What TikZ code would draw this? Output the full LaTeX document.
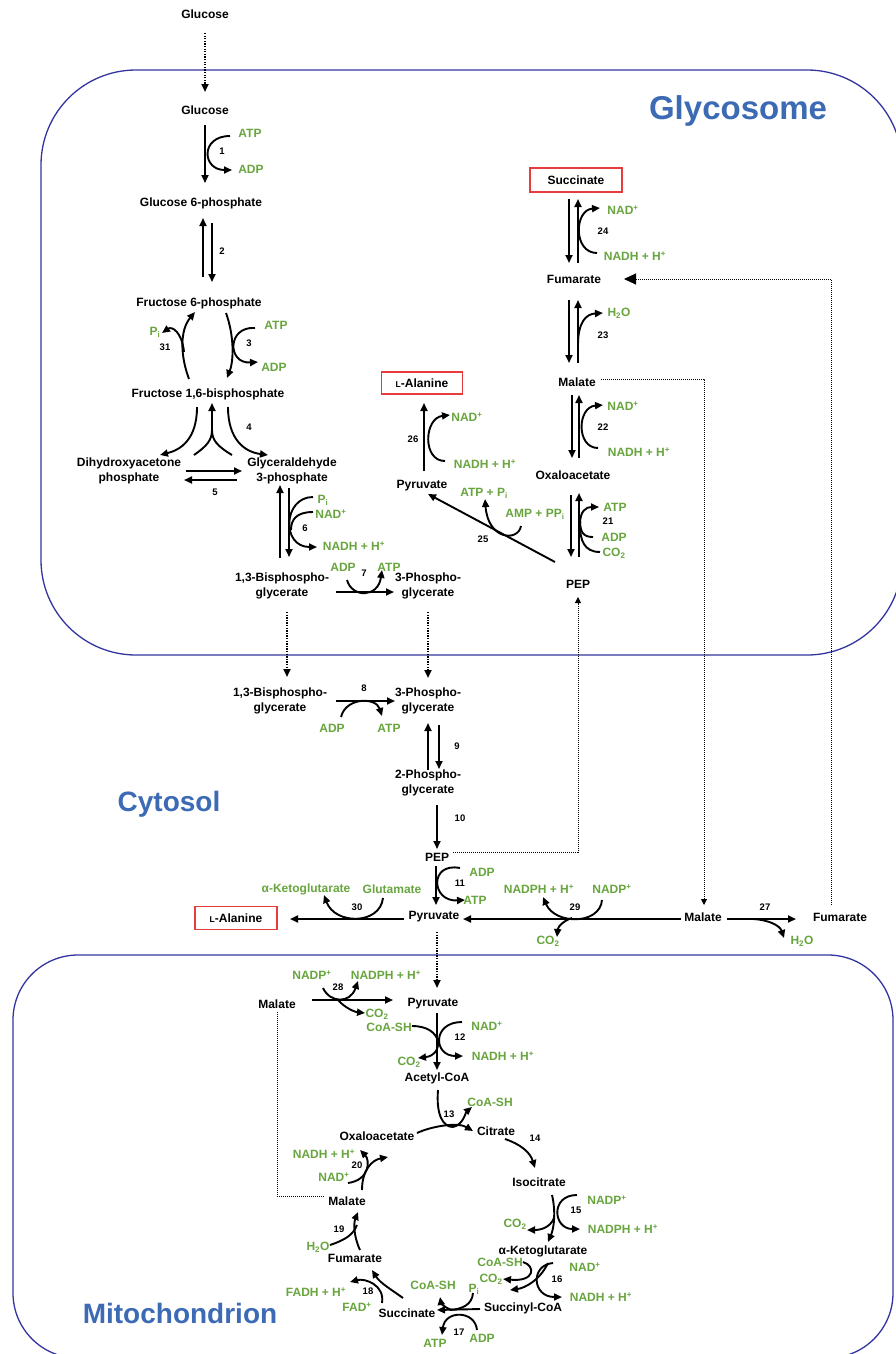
\documentclass[tikz,border=0pt]{standalone}
\usepackage{fontspec}
\setmainfont{Liberation Sans}
\usetikzlibrary{arrows.meta,calc}
\definecolor{cgreen}{RGB}{104,165,62}
\definecolor{cblue}{RGB}{60,106,180}
\definecolor{cnavy}{RGB}{52,52,160}
\definecolor{cred}{RGB}{232,60,60}
\begin{document}
\begin{tikzpicture}[x=1pt,y=-1pt,
 met/.style={font=\bfseries\fontsize{12}{14.5}\selectfont,align=center,inner sep=0pt},
 cof/.style={met,text=cgreen},
 num/.style={font=\bfseries\fontsize{9.5}{10}\selectfont,inner sep=0pt},
 ttl/.style={font=\bfseries\fontsize{28}{30}\selectfont,text=cblue,inner sep=0pt},
 comp/.style={draw=cnavy,line width=1.3pt},
 rx/.style={line width=1.9pt,-{Triangle[length=8pt,width=7pt]}},
 ln/.style={line width=1.9pt},
 tr/.style={line width=2pt,dash pattern=on 1.3pt off 1.3pt,-{Triangle[length=8pt,width=7pt]}},
 lk/.style={line width=1pt,dash pattern=on 1pt off 1pt},
 rbox/.style={met,draw=cred,line width=1.3pt}
]
\useasboundingbox (0,0) rectangle (896,1354);
% compartments
\draw[comp,rounded corners=95pt] (41,70) rectangle (902,655);
\draw[comp,rounded corners=65pt] (13,955) rectangle (893,1358);
\node[ttl,font=\bfseries\fontsize{33}{35}\selectfont] (tg) at (738,111) {Glycosome};
\node[ttl] (tc) at (169,804) {Cytosol};
\node[ttl] (tm) at (180,1313) {Mitochondrion};

% ---------- glycosome, left branch
\node[met] (glcout) at (205,14) {Glucose};
\node[met] (glc) at (205,110) {Glucose};
\draw[tr] (205,33) -- (205,92);
\draw[rx] (205,125) -- (205,183);
\draw[rx] (230,136) .. controls (200,136) and (202,170) .. (232,170);
\node[cof] (c1a) at (250,133) {ATP};
\node[cof] (c1b) at (251,169) {ADP};
\node[num] (n1) at (222,151) {1};
\node[met] (g6p) at (201,203) {Glucose 6-phosphate};
\draw[rx] (203,277) -- (203,218);
\draw[rx] (212,223) -- (212,282);
\node[num] (n2) at (222,251) {2};
\node[met] (f6p) at (199,303) {Fructose 6-phosphate};
% 3
\draw[rx] (226,313) .. controls (234,335) and (234,360) .. (227,378);
\draw[rx] (255,328) .. controls (227,326) and (227,364) .. (258,362);
\node[cof] (c3a) at (276,325) {ATP};
\node[cof] (c3b) at (274,367) {ADP};
\node[num] (n3) at (249,343) {3};
% 31
\draw[rx] (189,379) .. controls (180,355) and (180,330) .. (195,312);
\draw[rx] (184,352) .. controls (182,332) and (172,326) .. (162,333);
\node[cof] (c31) at (155,332) {P\textsubscript{i}};
\node[num] (n31) at (165,347) {31};
\node[met] (fbp) at (208,394) {Fructose 1,6-bisphosphate};
% 4
\draw[rx] (197,407) .. controls (197,440) and (180,450) .. (160,455);
\draw[rx] (228,407) .. controls (228,440) and (245,452) .. (268,455);
\draw[ln] (194,455) .. controls (207,446) and (212,440) .. (212,430);
\draw[ln] (232,455) .. controls (217,446) and (212,440) .. (212,430);
\draw[rx] (212,434) -- (212,403);
\node[num] (n4) at (249,427) {4};
\node[met] (dhap) at (129,471) {Dihydroxyacetone\\phosphate};
\node[met] (gap) at (292,471) {Glyceraldehyde\\3-phosphate};
\draw[rx] (186,471) -- (242,471);
\draw[rx] (237,480) -- (184,480);
\node[num] (n5) at (215,492) {5};
% 6
\draw[rx] (280,558) -- (280,485);
\draw[rx] (289,488) -- (289,557);
\draw[rx] (313,497) .. controls (283,497) and (281,547) .. (317,547);
\draw[ln] (313,512) .. controls (296,512) and (291,520) .. (291,530);
\node[cof] (c6a) at (323,500) {P\textsubscript{i}};
\node[cof] (c6b) at (331,514) {NAD\textsuperscript{+}};
\node[cof] (c6c) at (354,546) {NADH + H\textsuperscript{+}};
\node[num] (n6) at (305,528) {6};
\node[met] (bpg) at (282,586) {1,3-Bisphospho-\\glycerate};
\node[met] (pg3) at (428,586) {3-Phospho-\\glycerate};
\draw[rx] (336,592) -- (394,592);
\draw[rx] (347,580) .. controls (352,598) and (378,598) .. (382,570);
\node[cof] (c7a) at (343,567) {ADP};
\node[cof] (c7b) at (389,567) {ATP};
\node[num] (n7) at (364,573) {7};
\draw[tr] (287,612) -- (287,677);
\draw[tr] (428,612) -- (428,678);

% ---------- glycosome, right branch
\node[rbox,minimum width=92pt,minimum height=24pt] (suc) at (576,180) {Succinate};
\draw[rx] (569,199) -- (569,263);
\draw[rx] (578,263) -- (578,199);
\draw[rx] (597,253) .. controls (573,253) and (574,210) .. (600,208);
\node[cof] (c24a) at (623,210) {NAD\textsuperscript{+}};
\node[cof] (c24b) at (635,256) {NADH + H\textsuperscript{+}};
\node[num] (n24) at (603,231) {24};
\node[met] (fumg) at (574,279) {Fumarate};
\draw[rx] (569,300) -- (569,363);
\draw[rx] (578,363) -- (578,300);
\draw[rx] (578,345) .. controls (578,322) and (586,314) .. (603,313);
\node[cof] (c23) at (619,313) {H\textsubscript{2}O};
\node[num] (n23) at (603,335) {23};
\node[met] (malg) at (577,382) {Malate};
\draw[rx] (572,395) -- (572,458);
\draw[rx] (579,458) -- (579,395);
\draw[rx] (598,448) .. controls (576,448) and (577,407) .. (603,405);
\node[cof] (c22a) at (623,406) {NAD\textsuperscript{+}};
\node[cof] (c22b) at (639,452) {NADH + H\textsuperscript{+}};
\node[num] (n22) at (603,427) {22};
\node[met] (oaag) at (573,475) {Oxaloacetate};
\draw[rx] (571,495) -- (571,557);
\draw[rx] (579,557) -- (579,493);
\draw[ln] (593,537) .. controls (583,537) and (580,532) .. (580,520);
\draw[ln] (600,552) .. controls (584,552) and (580,540) .. (580,525);
\draw[rx] (580,524) .. controls (580,511) and (586,507) .. (599,507);
\node[cof] (c21a) at (615,507) {ATP};
\node[num] (n21) at (608,521) {21};
\node[cof] (c21b) at (614,537) {ADP};
\node[cof] (c21c) at (614,553) {CO\textsubscript{2}};
\node[met] (pepg) at (578,584) {PEP};
\node[met] (pyrg) at (422,486) {Pyruvate};
\draw[rx] (555,562) -- (428,494);
\draw[rx] (521,526) .. controls (518,542) and (488,540) .. (485,499);
\node[cof] (c25a) at (484,493) {ATP + P\textsubscript{i}};
\node[cof] (c25b) at (535,514) {AMP + PP\textsubscript{i}};
\node[num] (n25) at (483,539) {25};
\draw[rx] (424,471) -- (424,403);
\draw[rx] (445,461) .. controls (422,461) and (424,418) .. (450,415);
\node[cof] (c26a) at (467,417) {NAD\textsuperscript{+}};
\node[cof] (c26b) at (485,464) {NADH + H\textsuperscript{+}};
\node[num] (n26) at (413,439) {26};
\node[rbox,minimum width=81pt,minimum height=22pt] (alag) at (422,383) {{\fontsize{8.5}{9}\selectfont L}-Alanine};

% ---------- cytosol
\node[met] (bpgc) at (280,701) {1,3-Bisphospho-\\glycerate};
\node[met] (pg3c) at (428,701) {3-Phospho-\\glycerate};
\draw[rx] (336,701) -- (395,701);
\draw[rx] (341,717) .. controls (346,697) and (376,697) .. (382,716);
\node[cof] (c8a) at (332,728) {ADP};
\node[cof] (c8b) at (389,728) {ATP};
\node[num] (n8) at (364,688) {8};
\draw[rx] (428,770) -- (428,723);
\draw[rx] (439,725) -- (439,769);
\node[num] (n9) at (457,746) {9};
\node[met] (pg2c) at (428,783) {2-Phospho-\\glycerate};
\draw[rx] (437,805) -- (437,849);
\node[num] (n10) at (460,818) {10};
\node[met] (pepc) at (437,857) {PEP};
\draw[rx] (436,866) -- (436,905);
\draw[rx] (460,868) .. controls (429,862) and (431,902) .. (465,900);
\node[cof] (c11a) at (482,872) {ADP};
\node[cof] (c11b) at (475,900) {ATP};
\node[num] (n11) at (460,883) {11};
\node[met] (pyrc) at (434,917) {Pyruvate};
\node[rbox,minimum width=82pt,minimum height=23pt] (alac) at (236,918) {{\fontsize{8.5}{9}\selectfont L}-Alanine};
\draw[rx] (404,919) -- (290,919);
\draw[rx] (383,898) .. controls (380,925) and (335,925) .. (324,895);
\node[cof] (c30a) at (306,889) {α-Ketoglutarate};
\node[cof] (c30b) at (392,889) {Glutamate};
\node[num] (n30) at (357,907) {30};
\node[met] (malc) at (703,917) {Malate};
\draw[rx] (681,919) -- (463,919);
\draw[rx] (602,900) .. controls (600,925) and (555,925) .. (543,897);
\draw[rx] (572,918) .. controls (565,920) and (558,926) .. (557,937);
\node[cof] (c29a) at (539,889) {NADPH + H\textsuperscript{+}};
\node[cof] (c29b) at (612,889) {NADP\textsuperscript{+}};
\node[cof] (c29c) at (548,941) {CO\textsubscript{2}};
\node[num] (n29) at (575,907) {29};
\node[met] (fumc) at (840,917) {Fumarate};
\draw[rx] (727,919) -- (796,919);
\draw[rx] (753,919) .. controls (770,920) and (780,926) .. (784,938);
\node[cof] (c27) at (802,941) {H\textsubscript{2}O};
\node[num] (n27) at (765,907) {27};
% dotted links
\draw[lk,-{Triangle[length=12pt,width=11pt]}] (831,905) -- (831,279) -- (624,279);
\draw[lk,-{Triangle[length=6pt,width=6pt]}] (601,379) -- (704,379) -- (704,905);
\draw[lk,-{Triangle[length=6pt,width=6pt]}] (453,852) -- (578,852) -- (578,597);
\draw[tr] (437,932) -- (437,988);

% ---------- mitochondrion
\node[met] (pyrm) at (433,1004) {Pyruvate};
\node[met] (malm1) at (277,1004) {Malate};
\draw[rx] (312,1000) -- (393,1000);
\draw[rx] (323,988) .. controls (330,1003) and (350,1004) .. (358,981);
\draw[rx] (338,1000) .. controls (345,1008) and (355,1012) .. (365,1013);
\node[cof] (c28a) at (312,975) {NADP\textsuperscript{+}};
\node[cof] (c28b) at (386,975) {NADPH + H\textsuperscript{+}};
\node[cof] (c28c) at (377,1014) {CO\textsubscript{2}};
\node[num] (n28) at (338,987) {28};
\draw[rx] (437,1013) -- (437,1070);
\draw[rx] (412,1026) .. controls (444,1026) and (444,1055) .. (418,1058);
\draw[rx] (462,1022) .. controls (432,1022) and (433,1056) .. (463,1056);
\node[cof] (c12a) at (389,1027) {CoA-SH};
\node[cof] (c12b) at (409,1062) {CO\textsubscript{2}};
\node[cof] (c12c) at (487,1026) {NAD\textsuperscript{+}};
\node[cof] (c12d) at (503,1056) {NADH + H\textsuperscript{+}};
\node[num] (n12) at (460,1037) {12};
\node[met] (acoa) at (437,1078) {Acetyl-CoA};
\node[met] (oaam) at (377,1136) {Oxaloacetate};
\node[met] (cit) at (496,1131) {Citrate};
\draw[rx] (417,1133) .. controls (432,1126) and (458,1122) .. (473,1131);
\draw[ln] (438,1090) .. controls (436,1115) and (443,1127) .. (453,1127);
\draw[rx] (453,1127) .. controls (463,1125) and (466,1112) .. (472,1107);
\node[cof] (c13) at (490,1102) {CoA-SH};
\node[num] (n13) at (449,1114) {13};
\draw[rx] (505,1139) .. controls (520,1144) and (530,1152) .. (535,1168);
\node[num] (n14) at (535,1138) {14};
\node[met] (icit) at (539,1182) {Isocitrate};
\draw[rx] (552,1195) .. controls (556,1212) and (554,1228) .. (548,1242);
\draw[rx] (577,1195) .. controls (550,1195) and (553,1229) .. (580,1229);
\draw[rx] (554,1218) .. controls (550,1228) and (540,1230) .. (527,1230);
\node[cof] (c15a) at (607,1200) {NADP\textsuperscript{+}};
\node[cof] (c15b) at (623,1229) {NADPH + H\textsuperscript{+}};
\node[cof] (c15c) at (515,1224) {CO\textsubscript{2}};
\node[num] (n15) at (576,1210) {15};
\node[met] (akg) at (543,1251) {α-Ketoglutarate};
\draw[rx] (548,1263) .. controls (540,1280) and (525,1288) .. (510,1290);
\draw[rx] (523,1262) .. controls (536,1266) and (535,1282) .. (503,1279);
\draw[rx] (553,1263) .. controls (530,1265) and (532,1297) .. (562,1297);
\node[cof] (c16a) at (500,1262) {CoA-SH};
\node[cof] (c16b) at (491,1279) {CO\textsubscript{2}};
\node[cof] (c16c) at (585,1267) {NAD\textsuperscript{+}};
\node[cof] (c16d) at (601,1297) {NADH + H\textsuperscript{+}};
\node[num] (n16) at (557,1279) {16};
\node[met] (scoa) at (523,1308) {Succinyl-CoA};
\node[met] (sucm) at (407,1313) {Succinate};
\draw[rx] (480,1309) -- (437,1310);
\draw[ln] (473,1293) .. controls (472,1305) and (462,1309) .. (450,1310);
\draw[rx] (452,1310) .. controls (445,1308) and (441,1303) .. (440,1297);
\draw[rx] (477,1330) .. controls (475,1310) and (445,1310) .. (442,1335);
\node[cof] (c17a) at (433,1285) {CoA-SH};
\node[cof] (c17b) at (474,1289) {P\textsubscript{i}};
\node[cof] (c17c) at (435,1343) {ATP};
\node[cof] (c17d) at (482,1338) {ADP};
\node[num] (n17) at (459,1332) {17};
\node[met] (fumm) at (355,1258) {Fumarate};
\draw[rx] (403,1298) .. controls (392,1290) and (380,1283) .. (372,1270);
\draw[rx] (382,1303) .. controls (385,1285) and (365,1278) .. (350,1282);
\node[cof] (c18a) at (316,1292) {FADH + H\textsuperscript{+}};
\node[cof] (c18b) at (357,1307) {FAD\textsuperscript{+}};
\node[num] (n18) at (368,1291) {18};
\node[met] (malm) at (347,1201) {Malate};
\draw[rx] (360,1250) .. controls (353,1235) and (354,1222) .. (358,1212);
\draw[ln] (330,1245) .. controls (345,1240) and (353,1235) .. (357,1225);
\node[cof] (c19) at (318,1247) {H\textsubscript{2}O};
\node[num] (n19) at (339,1229) {19};
\draw[rx] (362,1190) .. controls (362,1170) and (372,1160) .. (388,1157);
\draw[rx] (348,1183) .. controls (370,1180) and (370,1160) .. (360,1150);
\node[cof] (c20a) at (324,1154) {NADH + H\textsuperscript{+}};
\node[cof] (c20b) at (334,1177) {NAD\textsuperscript{+}};
\node[num] (n20) at (357,1165) {20};
\draw[lk] (277,1012) -- (277,1196) -- (325,1196);
\end{tikzpicture}
\end{document}
